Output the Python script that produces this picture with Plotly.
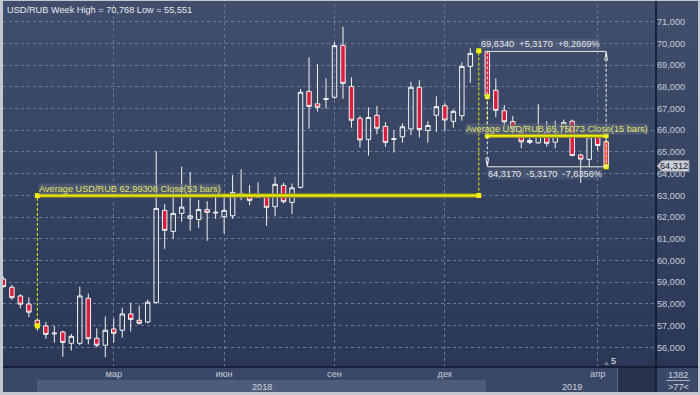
import plotly.graph_objects as go

# ---------------- data (weekly USD/RUB candles) ----------------
opens = [59.15, 58.77, 58.37, 58.00, 57.25, 56.99, 56.62, 56.71, 56.19, 56.19,
         58.26, 56.42, 56.10, 56.85, 56.79, 57.54, 57.25, 57.17, 58.07, 62.31,
         61.34, 62.17, 61.94, 61.89, 62.35, 62.19, 62.02, 62.06, 63.00, 62.97,
         62.91, 62.94, 62.48, 63.46, 62.68, 63.37, 67.79, 67.22, 67.42, 67.52,
         69.91, 68.02, 66.55, 65.58, 66.69, 66.18, 65.58, 65.70, 66.06, 67.98,
         65.99, 66.69, 67.13, 66.41, 66.67, 68.94, 69.60, 69.634, 67.84, 66.90,
         66.40, 65.88, 65.44, 65.42, 65.92, 65.45, 65.72, 66.42, 64.86, 64.66,
         65.70, 65.47]
highs = [59.25, 58.88, 58.45, 58.31, 57.30, 57.17, 57.00, 56.77, 56.62, 58.80,
         58.48, 56.88, 57.42, 57.33, 57.83, 58.06, 57.92, 58.19, 65.04, 62.60,
         63.20, 64.32, 64.08, 62.78, 62.74, 62.97, 63.00, 63.94, 64.20, 63.48,
         63.60, 62.97, 63.86, 63.58, 63.55, 67.90, 69.36, 69.04, 68.39, 70.05,
         70.768, 68.44, 66.66, 67.05, 67.12, 66.37, 66.01, 66.32, 68.22, 68.30,
         66.42, 67.56, 67.24, 66.96, 69.13, 69.77, 69.75, 69.65, 68.39, 67.16,
         66.66, 66.00, 65.70, 67.20, 66.42, 66.44, 66.50, 66.50, 64.93, 65.81,
         65.78, 65.55]
lows = [58.75, 58.19, 57.80, 57.39, 56.77, 56.39, 56.22, 55.57, 55.85, 56.10,
        56.14, 56.00, 55.551, 56.22, 56.45, 56.73, 57.05, 57.11, 58.02, 60.54,
        61.00, 61.79, 61.37, 61.51, 60.91, 61.92, 61.25, 61.92, 62.78, 62.55,
        62.90, 61.60, 62.05, 62.63, 62.14, 63.32, 66.07, 66.86, 67.00, 67.45,
        67.45, 66.12, 65.20, 64.83, 65.81, 65.24, 64.97, 65.43, 65.78, 65.67,
        65.43, 65.93, 65.98, 66.12, 66.44, 68.19, 69.55, 67.50, 66.60, 66.20,
        65.75, 65.17, 65.37, 65.38, 65.25, 65.17, 65.65, 64.80, 63.57, 64.32,
        65.06, 64.30]
closes = [58.80, 58.29, 57.99, 57.62, 56.99, 56.60, 56.66, 56.23, 56.51, 58.37,
          56.40, 56.10, 56.79, 56.65, 57.54, 57.29, 57.11, 58.08, 62.40, 61.39,
          62.17, 62.46, 62.06, 62.35, 62.22, 62.22, 62.31, 63.14, 63.09, 62.77,
          62.97, 62.45, 63.51, 62.71, 63.35, 67.75, 67.10, 67.06, 67.46, 69.90,
          68.16, 66.46, 65.55, 66.59, 66.09, 65.44, 65.61, 66.16, 67.98, 66.03,
          66.22, 67.09, 66.47, 66.87, 68.94, 69.54, 69.66, 67.55, 66.92, 66.39,
          66.10, 65.47, 65.53, 65.80, 65.40, 65.86, 66.35, 64.84, 64.67, 65.70,
          65.30, 64.317]
last_price_text = "64,312"

month_pos = [13, 26, 39, 52, 70]
month_text = ["мар", "июн", "сен", "дек", "апр"]
year_text = ["2018", "2019"]
year_first_bar = [4, 57]
y_ticks = [56, 57, 58, 59, 60, 61, 62, 63, 64, 65, 66, 67, 68, 69, 70, 71]
y_tick_text = ["56,000", "57,000", "58,000", "59,000", "60,000", "61,000", "62,000", "63,000",
               "64,000", "65,000", "66,000", "67,000", "68,000", "69,000", "70,000", "71,000"]

avg_ranges = [(4, 56), (57, 71)]
avg_values = [62.99308, 65.75073]
avg_labels = ["Average USD/RUB 62,99308 Close(53 bars)", "Average USD/RUB 65,75073 Close(15 bars)"]

measure_start, measure_end = 57, 71

x = list(range(len(closes)))

# ---------------- geometry helpers ----------------
FW, FH = 700, 395
L, R, T, B = 3, 656, 4, 367
W, H = R - L, B - T
XR = [-0.047, 76.87]
YR = [55.097, 71.815]


def px(p):
    return (p - L) / W


def py(p):
    return (B - p) / H


FONT = "Liberation Sans, Arial, sans-serif"
FS = 9.2

shapes = []
shapes.append(dict(type="rect", xref="paper", yref="paper", x0=px(3), x1=px(698), y0=py(1), y1=py(392),
                   fillcolor="#394665", line=dict(width=0), layer="below"))
N = 45
top_c = (64, 78, 108)
bot_c = (43, 55, 86)
for k in range(N):
    t = k / (N - 1)
    c = tuple(int(round(top_c[j] + (bot_c[j] - top_c[j]) * t)) for j in range(3))
    y0p = 1 + (B - 1) * k / N
    y1p = 1 + (B - 1) * (k + 1) / N
    shapes.append(dict(type="rect", xref="paper", yref="paper", x0=px(3), x1=px(698),
                       y0=py(y1p + 0.6), y1=py(y0p), fillcolor="rgb(%d,%d,%d)" % c,
                       line=dict(width=0), layer="below"))
shapes.append(dict(type="rect", xref="paper", yref="paper", x0=px(3), x1=px(698), y0=py(392), y1=py(367),
                   fillcolor="#3a4767", line=dict(width=0), layer="below"))
shapes.append(dict(type="rect", xref="x", yref="paper", x0=year_first_bar[0] - 0.05,
                   x1=year_first_bar[1] - 0.15, y0=py(392), y1=py(380),
                   fillcolor="#4e5b79", line=dict(width=0), layer="below"))
shapes.append(dict(type="rect", xref="paper", yref="paper", x0=px(618), x1=px(655), y0=py(392), y1=py(367.5),
                   fillcolor="#27324c", line=dict(width=0), layer="below"))
shapes.append(dict(type="line", xref="paper", yref="paper", x0=px(617.5), x1=px(617.5), y0=py(392), y1=py(368),
                   line=dict(color="#5a6680", width=1), layer="below"))
shapes.append(dict(type="line", xref="paper", yref="paper", x0=px(3), x1=px(698), y0=py(367), y1=py(367),
                   line=dict(color="#0e1628", width=1.5), layer="above"))
shapes.append(dict(type="line", xref="paper", yref="paper", x0=px(656), x1=px(656), y0=py(1), y1=py(392),
                   line=dict(color="#0e1628", width=1.5), layer="above"))
shapes.append(dict(type="line", xref="paper", yref="paper", x0=px(666), x1=px(690), y0=py(380.5), y1=py(380.5),
                   line=dict(color="#aab2c4", width=1), layer="above"))
shapes.append(dict(type="path", xref="paper", yref="paper",
                   path="M %f %f L %f %f L %f %f L %f %f L %f %f Z" % (
                       px(657), py(166), px(662), py(160.5), px(689), py(160.5), px(689), py(171.5),
                       px(662), py(171.5)),
                   fillcolor="#c9cdd6", line=dict(color="#8a90a0", width=1), layer="above"))
shapes.append(dict(type="path", xref="paper", yref="paper",
                   path="M %f %f L %f %f L %f %f Z" % (px(604), py(365), px(609), py(365), px(606.5), py(361)),
                   fillcolor="#6a7488", line=dict(width=0), layer="above"))

fig = go.Figure()

fig.add_trace(go.Candlestick(
    x=x, open=opens, high=highs, low=lows, close=closes,
    increasing=dict(line=dict(color="#f4f4f4", width=1), fillcolor="rgba(0,0,0,0)"),
    decreasing=dict(line=dict(color="#f4f4f4", width=1), fillcolor="#d91d3c"),
    whiskerwidth=0, hoverinfo="skip", showlegend=False))

YEL = "#f2f200"
for (a, b), v in zip(avg_ranges, avg_values):
    fig.add_trace(go.Scatter(x=[a, b], y=[v, v], mode="lines",
                             line=dict(color="#8f8f2a", width=4.5), hoverinfo="skip", showlegend=False))
    fig.add_trace(go.Scatter(x=[a, b], y=[v, v], mode="lines",
                             line=dict(color=YEL, width=2), hoverinfo="skip", showlegend=False))
    fig.add_trace(go.Scatter(x=[a, a, None, b, b], y=[closes[a], v, None, v, closes[b]], mode="lines",
                             line=dict(color=YEL, width=1, dash="3px,2px"), hoverinfo="skip", showlegend=False))
    fig.add_trace(go.Scatter(x=[a, a, b, b], y=[closes[a], v, v, closes[b]], mode="markers",
                             marker=dict(symbol="square", size=5, color=YEL, line=dict(width=0)),
                             hoverinfo="skip", showlegend=False))

m_top = opens[measure_start]
m_bot = closes[measure_end]
WH = "#f0f0f0"
fig.add_trace(go.Scatter(x=[measure_start, measure_end, None, measure_start, measure_end],
                         y=[m_top, m_top, None, m_bot, m_bot], mode="lines",
                         line=dict(color=WH, width=1), hoverinfo="skip", showlegend=False))
fig.add_trace(go.Scatter(x=[measure_start, measure_start, None, measure_end, measure_end],
                         y=[m_top, m_bot, None, m_bot, m_top], mode="lines",
                         line=dict(color=WH, width=1, dash="3px,2px"), hoverinfo="skip", showlegend=False))
dxh, dyh = 0.17, 0.42
fig.add_trace(go.Scatter(x=[measure_start - dxh, measure_start, measure_start + dxh, None,
                            measure_end - dxh, measure_end, measure_end + dxh],
                         y=[m_bot + dyh, m_bot + 0.03, m_bot + dyh, None,
                            m_top - dyh, m_top - 0.03, m_top - dyh], mode="lines",
                         line=dict(color=WH, width=1), hoverinfo="skip", showlegend=False))


def fmt(v, nd):
    return ("%.*f" % (nd, v)).replace(".", ",")


diff = m_top - m_bot
up_txt = "%s  +%s  +%s%%" % (fmt(m_top, 4), fmt(diff, 4), fmt(diff / m_bot * 100, 4))
dn_txt = "%s  -%s  -%s%%" % (fmt(m_bot, 4), fmt(diff, 4), fmt(diff / m_top * 100, 4))

title_txt = "USD/RUB Week High = %s Low = %s" % (fmt(max(highs), 3), fmt(min(lows), 3))

annotations = [
    dict(xref="paper", yref="paper", x=px(5), y=py(10), text=title_txt, showarrow=False,
         xanchor="left", yanchor="middle", font=dict(family=FONT, size=FS, color="#e8eaf0")),
    dict(xref="x", yref="y", x=avg_ranges[0][0], y=avg_values[0], text=avg_labels[0], showarrow=False,
         xanchor="left", yanchor="bottom", xshift=1, yshift=1, bgcolor="rgba(95,105,125,0.55)",
         borderpad=0, font=dict(family=FONT, size=FS, color="#e4e46c")),
    dict(xref="x", yref="y", x=avg_ranges[1][0], y=avg_values[1], text=avg_labels[1], showarrow=False,
         xanchor="left", yanchor="bottom", xshift=-22, yshift=1, bgcolor="rgba(95,105,125,0.55)",
         borderpad=0, font=dict(family=FONT, size=FS, color="#e4e46c")),
    dict(xref="x", yref="y", x=measure_start, y=m_top, text=up_txt, showarrow=False,
         xanchor="left", yanchor="bottom", xshift=-7, yshift=1, bgcolor="rgba(110,120,140,0.3)",
         borderpad=0, font=dict(family=FONT, size=FS, color="#e8eaf0")),
    dict(xref="x", yref="y", x=measure_start, y=m_bot, text=dn_txt, showarrow=False,
         xanchor="left", yanchor="top", xshift=0, yshift=-1, bgcolor="rgba(110,120,140,0.3)",
         borderpad=0, font=dict(family=FONT, size=FS, color="#e8eaf0")),
    dict(xref="paper", yref="paper", x=px(673.5), y=py(166), text=last_price_text, showarrow=False,
         xanchor="center", yanchor="middle", font=dict(family=FONT, size=FS, color="#1a2030")),
    dict(xref="paper", yref="paper", x=px(678), y=py(374.5), text="1382", showarrow=False,
         xanchor="center", yanchor="middle", font=dict(family=FONT, size=FS, color="#d0d4de")),
    dict(xref="paper", yref="paper", x=px(678), y=py(386.5), text=">77<", showarrow=False,
         xanchor="center", yanchor="middle", font=dict(family=FONT, size=FS, color="#d0d4de")),
    dict(xref="paper", yref="paper", x=px(613), y=py(360.5), text="5", showarrow=False,
         xanchor="center", yanchor="middle", font=dict(family=FONT, size=FS, color="#e8eaf0")),
    dict(xref="x", yref="paper", x=(year_first_bar[0] + year_first_bar[1]) / 2, y=py(386.5), text=year_text[0],
         showarrow=False, xanchor="center", yanchor="middle",
         font=dict(family=FONT, size=FS, color="#d0d4de")),
    dict(xref="paper", yref="paper", x=px(572), y=py(386.5), text=year_text[1],
         showarrow=False, xanchor="center", yanchor="middle",
         font=dict(family=FONT, size=FS, color="#d0d4de")),
]

fig.update_layout(
    template="none",
    width=FW, height=FH,
    margin=dict(l=L, r=FW - R, t=T, b=FH - B, pad=0, autoexpand=False),
    paper_bgcolor="#c3c7cf",
    plot_bgcolor="rgba(0,0,0,0)",
    showlegend=False,
    hovermode=False,
    boxgap=0.25,
    shapes=shapes,
    annotations=annotations,
    xaxis=dict(range=XR, tickmode="array", tickvals=month_pos, ticktext=month_text,
               showgrid=True, gridcolor="#6c7997", griddash="3px,3px", gridwidth=1,
               zeroline=False, showline=False, ticks="", automargin=False, fixedrange=True,
               rangeslider=dict(visible=False),
               tickfont=dict(family=FONT, size=FS, color="#c8ccd8")),
    yaxis=dict(range=YR, side="right", tickmode="array", tickvals=y_ticks, ticktext=y_tick_text,
               showgrid=True, gridcolor="#6c7997", griddash="3px,3px", gridwidth=1,
               zeroline=False, showline=False, ticks="", automargin=False, fixedrange=True,
               tickfont=dict(family=FONT, size=FS, color="#c8ccd8")),
)

html = fig.to_html(full_html=True, include_plotlyjs=True, config={"displayModeBar": False})
html = html.replace("<head>", "<head><style>html,body{margin:0;padding:0;overflow:hidden;}</style>", 1)
with open("out.html", "w", encoding="utf-8") as f:
    f.write(html)
